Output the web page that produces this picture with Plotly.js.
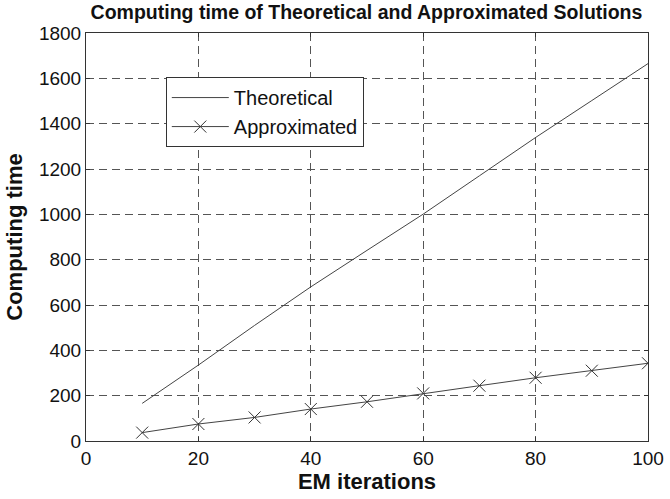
<!DOCTYPE html>
<html>
<head>
<meta charset="utf-8">
<script src="https://cdn.plot.ly/plotly-3.0.1.min.js"></script>
<style>html,body{margin:0;padding:0;background:#fff;}#chart{width:670px;height:499px;}</style>
</head>
<body>
<div id="chart"></div>
<script>
const iterations = [10, 20, 30, 40, 50, 60, 70, 80, 90, 100];
const theoretical = [166, 335, 510, 680, 841, 1001, 1170, 1339, 1502, 1665];
const approximated = [37, 75, 104, 141, 173, 210, 244, 279, 310, 343];
const xTicks = [0, 20, 40, 60, 80, 100];
const yTicks = [0, 200, 400, 600, 800, 1000, 1200, 1400, 1600, 1800];

const FONT = 'Liberation Sans, Arial, sans-serif';

const traces = [
  {x: iterations, y: theoretical, name: 'Theoretical', type: 'scatter', mode: 'lines',
   line: {color: '#444', width: 1}},
  {x: iterations, y: approximated, name: 'Approximated', type: 'scatter', mode: 'lines+markers',
   line: {color: '#444', width: 1},
   marker: {symbol: 'x-thin', size: 12, color: '#333', line: {color: '#333', width: 1}}}
];

const axisCommon = {
  showline: true, mirror: 'ticks', linecolor: '#333', linewidth: 1,
  ticks: 'inside', ticklen: 4, tickcolor: '#333',
  showgrid: true, gridcolor: '#555', gridwidth: 1, griddash: '8px,5px',
  zeroline: false,
  tickfont: {family: FONT, size: 19, color: '#111'}
};

const layout = {
  width: 670, height: 499,
  margin: {l: 86, r: 22, t: 33, b: 58},
  paper_bgcolor: '#fff', plot_bgcolor: '#fff',
  title: {text: '<b>Computing time of Theoretical and Approximated Solutions</b>',
          font: {family: FONT, size: 19.5, color: '#111'},
          x: 0.547, xanchor: 'center', y: 0.975, yanchor: 'middle'},
  xaxis: Object.assign({}, axisCommon, {
    range: [0, 100], tickvals: xTicks, ticktext: xTicks.map(String),
    title: {text: '<b>EM iterations</b>', standoff: 1,
            font: {family: FONT, size: 22, color: '#111'}}
  }),
  yaxis: Object.assign({}, axisCommon, {
    range: [0, 1800], tickvals: yTicks, ticktext: yTicks.map(String),
    title: {text: '<b>Computing time</b>', standoff: 10,
            font: {family: FONT, size: 22, color: '#111'}}
  }),
  showlegend: true,
  legend: {x: 0.142, y: 0.892, xanchor: 'left', yanchor: 'top',
           bgcolor: '#fff', bordercolor: '#333', borderwidth: 1,
           font: {family: FONT, size: 20, color: '#111'},
           itemwidth: 57, tracegroupgap: 0}
};

Plotly.newPlot('chart', traces, layout, {displayModeBar: false, staticPlot: true});
</script>
</body>
</html>
